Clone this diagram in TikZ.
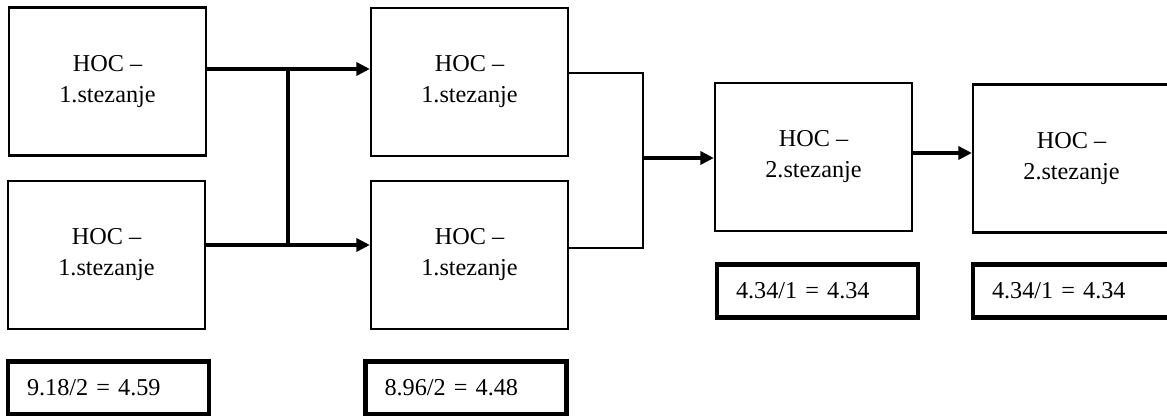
\documentclass[tikz,border=0pt]{standalone}
\usepackage{fontspec}
\setmainfont{Liberation Serif}
\usetikzlibrary{arrows.meta}
\tikzset{
    hoc/.style={draw, line width=1.3pt, minimum width=3.94cm, minimum height=2.96cm,
        align=center, font=\fontsize{13.8}{17.6}\selectfont},
    result/.style={draw, line width=2.7pt, text width=3.26cm, inner xsep=0.38cm,
        minimum height=1.06cm, align=left, font=\fontsize{13.8}{16}\selectfont},
    flow/.style={line width=2.1pt, -{Triangle[length=0.27cm,width=0.26cm]}},
    link/.style={line width=1.6pt}
}
\begin{document}
\begin{tikzpicture}[x=0.02cm, y=-0.02cm]
    \useasboundingbox (0,0) rectangle (1167,416);
    % Stages
    \node[hoc] (A) at (107.5,81.5) {HOC --\\1.stezanje};
    \node[hoc] (B) at (106.5,255) {HOC --\\1.stezanje};
    \node[hoc] (C) at (469.5,82) {HOC --\\1.stezanje};
    \node[hoc] (D) at (469.5,255) {HOC --\\1.stezanje};
    \node[hoc] (E) at (813.5,157) {HOC --\\2.stezanje};
    \node[hoc] (F) at (1071.5,158.5) {HOC --\\2.stezanje};
    % Results
    \node[result] (rA) at (108.5,388) {9.18/2 = 4.59};
    \node[result] (rC) at (466,388) {8.96/2 = 4.48};
    \node[result] (rE) at (817.5,291) {4.34/1 = 4.34};
    \node[result] (rF) at (1073.5,291) {4.34/1 = 4.34};
    % Split
    \coordinate (s1) at (288,69);
    \coordinate (s2) at (288,245);
    \draw[flow] (A.east |- s1) -- (C.west |- s1);
    \draw[flow] (B.east |- s2) -- (D.west |- s2);
    \draw[line width=2.1pt] (s1) -- (s2);
    % Merge
    \coordinate (m1) at (643,73);
    \coordinate (m2) at (643,248);
    \coordinate (m0) at (643,158);
    \draw[link] (C.east |- m1) -- (m1) -- (m2) -- (D.east |- m2);
    \draw[flow] (m0) -- (E.west |- m0);
    \coordinate (e1) at (912,153);
    \draw[flow] (E.east |- e1) -- (F.west |- e1);
\end{tikzpicture}
\end{document}
